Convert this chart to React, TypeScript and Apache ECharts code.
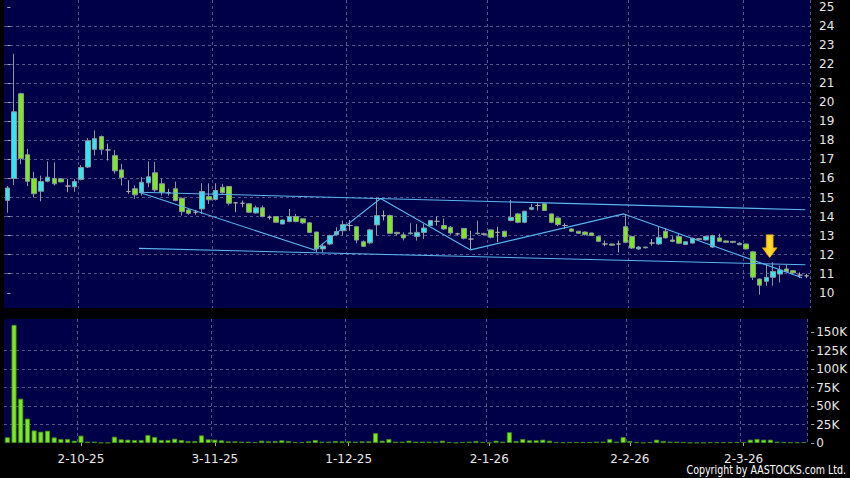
import React, { useEffect, useRef } from "react";
import * as echarts from "echarts";

const dates = [
  "16-9-25","17-9-25","18-9-25","19-9-25","22-9-25","23-9-25","24-9-25","25-9-25","26-9-25","29-9-25","30-9-25",
  "2-10-25","3-10-25","6-10-25","8-10-25","9-10-25","10-10-25","13-10-25","14-10-25","15-10-25","16-10-25","17-10-25",
  "20-10-25","21-10-25","22-10-25","23-10-25","24-10-25","27-10-25","28-10-25","30-10-25","31-10-25",
  "3-11-25","4-11-25","5-11-25","6-11-25","7-11-25","10-11-25","11-11-25","12-11-25","13-11-25","14-11-25",
  "17-11-25","18-11-25","19-11-25","20-11-25","21-11-25","24-11-25","25-11-25","26-11-25","27-11-25","28-11-25",
  "1-12-25","2-12-25","3-12-25","4-12-25","5-12-25","8-12-25","9-12-25","10-12-25","11-12-25","12-12-25",
  "15-12-25","16-12-25","17-12-25","18-12-25","19-12-25","22-12-25","23-12-25","24-12-25","29-12-25","30-12-25","31-12-25",
  "2-1-26","5-1-26","6-1-26","7-1-26","8-1-26","9-1-26","12-1-26","13-1-26","14-1-26","15-1-26","16-1-26",
  "19-1-26","20-1-26","21-1-26","22-1-26","23-1-26","26-1-26","27-1-26","28-1-26","29-1-26","30-1-26",
  "2-2-26","3-2-26","4-2-26","5-2-26","6-2-26","9-2-26","10-2-26","11-2-26","12-2-26","13-2-26",
  "16-2-26","20-2-26","23-2-26","24-2-26","25-2-26","26-2-26","27-2-26",
  "2-3-26","3-3-26","4-3-26","5-3-26","6-3-26","9-3-26","10-3-26","11-3-26","12-3-26","13-3-26",
];

const opens = [
  14.85,16.0,20.45,17.25,16.0,15.33,15.86,16.0,15.98,15.6,15.56,
  15.95,16.6,17.53,18.2,17.5,17.2,16.45,15.32,15.46,15.28,15.77,
  16.3,15.72,15.25,15.46,14.96,14.35,14.23,14.4,15.05,
  14.9,15.54,15.58,14.72,14.7,14.67,14.19,14.46,13.96,14.0,
  13.61,13.74,14.0,13.88,13.67,13.19,12.3,12.56,13.04,13.26,
  13.53,13.47,12.68,12.62,13.56,14.05,14.05,13.17,13.04,13.1,
  12.96,13.17,13.53,13.75,13.53,13.44,13.09,13.38,12.82,13.1,13.1,
  13.3,13.17,13.23,13.79,14.14,13.7,14.38,14.58,14.67,14.14,13.93,
  13.53,13.35,13.23,13.19,13.14,12.96,12.56,12.56,12.56,13.47,
  12.95,12.3,12.4,12.61,12.56,13.23,12.77,12.95,12.53,12.61,
  12.84,12.77,12.4,12.88,12.72,12.7,12.52,
  12.56,12.15,10.72,10.6,10.81,10.98,11.25,11.16,10.93,10.89,
];

const closes = [
  15.5,19.5,17.05,15.85,15.2,15.84,16.07,15.72,15.82,15.6,15.84,
  16.58,17.98,18.09,17.53,17.5,16.4,16.05,15.32,15.14,15.8,16.09,
  15.4,15.28,15.25,14.84,14.26,14.17,14.23,15.32,14.88,
  15.37,15.25,14.7,14.72,14.7,14.23,14.46,14.0,13.96,13.7,
  13.82,14.0,13.74,13.67,13.17,12.3,12.45,13.0,13.21,13.58,
  13.53,12.77,12.44,13.3,14.05,14.05,13.12,13.1,12.88,13.14,
  13.17,13.4,13.79,13.75,13.35,13.14,13.09,12.86,12.82,13.13,13.06,
  12.91,13.17,12.95,13.96,13.7,14.28,14.47,14.58,14.32,13.7,13.58,
  13.53,13.23,13.12,13.05,13.0,12.7,12.56,12.5,12.56,12.65,
  12.35,12.4,12.36,12.61,12.91,12.88,12.7,12.6,12.68,12.86,
  12.8,12.96,13.0,12.7,12.65,12.65,12.6,
  12.3,10.82,10.4,10.81,11.12,11.19,11.12,11.04,10.93,10.89,
];

const lows = [
  14.2,15.65,16.75,15.6,15.0,14.8,15.8,15.63,15.8,15.28,15.3,
  15.9,16.55,17.2,17.25,16.95,16.25,15.63,15.2,14.93,15.1,15.55,
  15.3,15.1,15.1,14.8,14.05,14.1,14.1,14.14,14.67,
  14.84,15.2,14.58,14.23,14.49,14.2,14.15,13.96,13.84,13.68,
  13.6,13.7,13.7,13.6,13.15,12.12,12.12,12.5,13.0,13.0,
  13.26,12.6,12.4,12.55,13.0,13.79,13.09,13.0,12.75,13.05,
  12.74,12.82,13.5,13.53,13.3,13.05,13.0,12.8,12.3,13.05,13.0,
  12.85,12.65,12.9,13.75,13.65,13.65,14.33,14.32,14.3,13.65,13.5,
  13.35,13.2,13.1,13.0,12.98,12.68,12.44,12.47,12.12,12.6,
  12.3,12.25,12.33,12.47,12.5,12.85,12.65,12.55,12.5,12.58,
  12.75,12.75,12.35,12.68,12.6,12.6,12.5,
  12.28,10.67,9.9,10.37,10.37,10.54,11.1,11.0,10.77,10.77,
];

const highs = [
  15.6,22.55,20.5,17.55,16.35,16.15,16.9,16.85,16.0,15.98,15.98,
  16.7,18.12,18.53,18.25,17.83,17.5,16.77,15.9,15.63,16.07,16.9,
  16.86,15.98,15.46,15.84,15.0,14.4,14.35,15.75,15.75,
  15.75,15.72,15.6,14.75,14.84,14.7,14.58,14.58,14.05,14.02,
  13.85,14.4,14.14,13.9,13.7,13.2,12.56,13.05,13.44,13.79,
  13.82,13.5,12.75,13.35,15.0,14.32,14.1,13.2,13.17,13.65,
  13.61,13.61,13.82,14.0,13.9,13.5,13.15,13.4,13.26,13.79,13.15,
  13.32,13.47,13.25,14.88,14.2,14.3,14.67,14.7,14.7,14.16,13.95,
  13.65,13.4,13.25,13.22,13.16,12.98,12.74,12.58,12.74,14.14,
  13.0,12.45,12.42,12.82,13.47,13.4,12.97,13.12,12.7,12.9,
  12.88,13.0,13.05,13.1,12.74,12.72,12.65,
  12.58,12.2,10.75,11.5,11.6,11.42,11.47,11.18,11.07,11.0,
];

const volumes = [
  7700,160000,60000,33000,17000,15300,16600,7600,5400,5400,3100,
  9900,1800,1800,500,300,8500,4900,4500,4000,4000,10800,
  8100,4000,4000,5800,4000,2700,2700,10300,4900,
  4500,3600,2200,2200,1800,1800,1300,3100,2200,2700,
  3600,2700,1300,1300,2200,4000,1800,1800,2700,2200,
  2200,1800,2200,2200,13500,3100,5400,1800,1800,3100,
  1800,1800,1800,1800,3100,1300,500,1300,1800,2700,1300,
  500,3100,1800,14500,2700,5400,3600,3600,4500,3100,1300,
  900,1300,1300,1300,1300,1800,1800,5400,1800,8100,
  2700,1300,500,1300,4500,2700,1800,1800,1300,500,
  500,500,900,900,900,900,1300,
  1300,4500,5400,4500,4500,1800,1300,900,900,1300,
];

const priceTicks = [10, 11, 12, 13, 14, 15, 16, 17, 18, 19, 20, 21, 22, 23, 24, 25];
const volumeTicks = [0, 25000, 50000, 75000, 100000, 125000, 150000];
const dateLabels = ["2-10-25", "3-11-25", "1-12-25", "2-1-26", "2-2-26", "2-3-26"];

// hand-drawn trend lines: [candle index, price]
const upperChannel = [[19.6, 15.28], [118.8, 14.36]];
const lowerChannel = [[19.6, 12.33], [118.8, 11.47]];
const zigzag = [[19.6, 15.28], [45.75, 12.24], [55.57, 14.95], [68.96, 12.25], [91.78, 14.14], [118.33, 10.79]];
const arrowTip = [[113.5, 11.84]];

const FONT = '"DejaVu Sans", sans-serif';
const PANEL = "#000048";
const GRIDLINE = "#55558e";

export default function App() {
  const ref = useRef<HTMLDivElement>(null);

  useEffect(() => {
    if (!ref.current) return;
    const chart = echarts.init(ref.current, null, { renderer: "svg" });
    const isLabel = (_i: number, v: string) => dateLabels.indexOf(v) >= 0;
    const candleData = opens.map((o, i) => [o, closes[i], lows[i], highs[i]]);
    const trendStyle = { color: "#5ab6ee", width: 1.1 };

    chart.setOption({
      animation: false,
      backgroundColor: "#000000",
      grid: [
        { left: 4, right: 40, top: 0, height: 308, show: true, backgroundColor: PANEL, borderWidth: 0 },
        { left: 4, right: 40, top: 319, height: 124, show: true, backgroundColor: PANEL, borderWidth: 0 },
      ],
      xAxis: [
        {
          type: "category",
          gridIndex: 0,
          data: dates,
          boundaryGap: true,
          axisLine: { show: false },
          axisTick: { show: false, alignWithLabel: true, interval: isLabel },
          axisLabel: { show: false, interval: isLabel },
          splitLine: { show: true, interval: isLabel, lineStyle: { color: GRIDLINE, type: [3, 3], width: 1 } },
        },
        {
          type: "category",
          gridIndex: 1,
          data: dates,
          boundaryGap: true,
          offset: 3,
          axisLine: { show: false },
          axisTick: { show: true, alignWithLabel: true, interval: isLabel, length: 3, lineStyle: { color: "#aaaaaa" } },
          axisLabel: { show: true, interval: isLabel, color: "#e8e8e8", fontFamily: FONT, fontSize: 12, margin: 7 },
          splitLine: { show: true, interval: isLabel, lineStyle: { color: GRIDLINE, type: [3, 3], width: 1 } },
        },
        { type: "value", gridIndex: 0, min: -0.5, max: dates.length - 0.5, show: false },
      ],
      yAxis: [
        {
          type: "value",
          gridIndex: 0,
          position: "right",
          min: 9.2,
          max: 25.37,
          minInterval: 1,
          maxInterval: 1,
          offset: 4,
          axisLine: { show: false },
          axisTick: { show: true, length: 3, customValues: priceTicks, lineStyle: { color: "#aaaaaa" } },
          axisLabel: { show: true, customValues: priceTicks, color: "#e8e8e8", fontFamily: FONT, fontSize: 12, margin: 5 },
          splitLine: { show: true, showMinLine: false, showMaxLine: false, lineStyle: { color: GRIDLINE, type: [3, 3], width: 1 } },
        },
        {
          type: "value",
          gridIndex: 1,
          position: "right",
          min: 0,
          max: 168000,
          minInterval: 25000,
          maxInterval: 25000,
          offset: 4,
          axisLine: { show: false },
          axisTick: { show: true, length: 3, customValues: volumeTicks, lineStyle: { color: "#aaaaaa" } },
          axisLabel: {
            show: true,
            customValues: volumeTicks,
            color: "#e8e8e8",
            fontFamily: FONT,
            fontSize: 12,
            margin: 5,
            formatter: (v: number) => (v === 0 ? "0" : v / 1000 + "K"),
          },
          splitLine: { show: true, showMinLine: false, showMaxLine: false, lineStyle: { color: GRIDLINE, type: [3, 3], width: 1 } },
        },
      ],
      series: [
        {
          type: "candlestick",
          xAxisIndex: 0,
          yAxisIndex: 0,
          data: candleData,
          barWidth: 5,
          itemStyle: {
            color: "#2fe6f2",
            color0: "#7ce81f",
            borderColor: "#8a9a9a",
            borderColor0: "#8a9a9a",
            borderColorDoji: "#a8a8a8",
            borderWidth: 1,
          },
        },
        {
          type: "bar",
          xAxisIndex: 1,
          yAxisIndex: 1,
          data: volumes,
          barWidth: 5,
          itemStyle: { color: "#7ce81f", borderColor: "#3f8f10", borderWidth: 0.8 },
        },
        { type: "line", xAxisIndex: 2, yAxisIndex: 0, data: upperChannel, symbol: "none", lineStyle: trendStyle, silent: true, z: 5 },
        { type: "line", xAxisIndex: 2, yAxisIndex: 0, data: lowerChannel, symbol: "none", lineStyle: trendStyle, silent: true, z: 5 },
        { type: "line", xAxisIndex: 2, yAxisIndex: 0, data: zigzag, symbol: "none", lineStyle: trendStyle, silent: true, z: 5 },
        {
          type: "scatter",
          xAxisIndex: 2,
          yAxisIndex: 0,
          data: arrowTip,
          symbol: "path://M4,0 L11,0 L11,13 L15,13 L7.5,23 L0,13 L4,13 Z",
          symbolSize: [15, 23],
          symbolOffset: [0, "-50%"],
          silent: true,
          z: 6,
          itemStyle: {
            opacity: 1,
            color: new echarts.graphic.LinearGradient(0, 0, 1, 0, [
              { offset: 0, color: "#ffb000" },
              { offset: 0.5, color: "#ffe030" },
              { offset: 1, color: "#ffb000" },
            ]),
            borderColor: "#ffa000",
            borderWidth: 0.5,
          },
        },
      ],
      graphic: [
        {
          type: "text",
          x: 846,
          y: 470,
          scaleX: 0.79,
          style: {
            text: "Copyright by AASTOCKS.com Ltd.",
            fill: "#ffffff",
            font: '12px "DejaVu Sans", sans-serif',
            textAlign: "right",
            textVerticalAlign: "middle",
          },
        },
      ],
    });

    return () => chart.dispose();
  }, []);

  return (
    <div
      ref={ref}
      style={{ position: "fixed", left: 0, top: 0, width: 850, height: 478, background: "#000000" }}
    />
  );
}
